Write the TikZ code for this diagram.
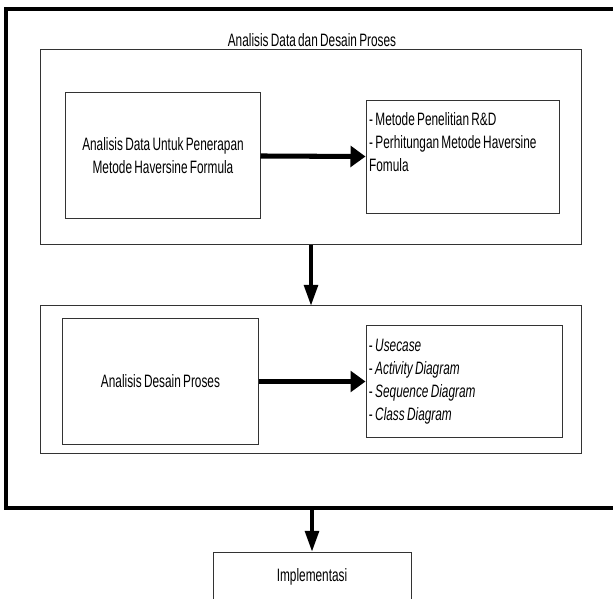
\documentclass[tikz,border=0pt]{standalone}
\usepackage{fontspec}
\setmainfont{Liberation Sans}[FakeStretch=0.66, WordSpace=0.7]
\usetikzlibrary{arrows.meta}

\tikzset{
	box/.style={shape=rectangle, draw=black!80, line width=0.85pt, inner sep=0.06cm, font=\fontsize{15.3}{19.6}\selectfont},
	txt/.style={shape=rectangle, inner sep=0pt, font=\fontsize{15.3}{19.6}\selectfont},
	frame/.style={shape=rectangle, draw, line width=3.4pt},
	flow/.style={line width=4.3pt, -{Triangle[length=0.45cm,width=0.62cm]}},
	down/.style={line width=2.6pt, -{Triangle[length=0.62cm,width=0.42cm]}},
}

\begin{document}
\begin{tikzpicture}[x=0.03cm, y=-0.03cm]
	\useasboundingbox (0,0) rectangle (613,599);

	\node[frame, minimum width=19.305cm, minimum height=14.94cm] (0) at (328.25,258.5) {};
	\node[txt] (t) at (312,40) {Analisis Data dan Desain Proses};

	\node[box, minimum width=16.2cm, minimum height=5.82cm] (1) at (311,147) {};
	\node[box, minimum width=5.82cm, minimum height=3.75cm, align=center] (2) at (163,155.5) {Analisis Data Untuk Penerapan\\Metode Haversine Formula};
	\node[box, minimum width=5.79cm, minimum height=3.36cm, text width=5.6cm, align=flush left] (3) at (462.5,157) {- Metode Penelitian R\&D\\- Perhitungan Metode Haversine\\Fomula\\\strut};

	\node[box, minimum width=16.2cm, minimum height=4.41cm] (4) at (311,379.5) {};
	\node[box, minimum width=5.85cm, minimum height=3.75cm] (5) at (160.5,381.5) {Analisis Desain Proses};
	\node[box, minimum width=5.88cm, minimum height=3.33cm, text width=5.7cm, align=flush left] (6) at (464,381.5) {- \textit{Usecase}\\- \textit{Activity Diagram}\\- \textit{Sequence Diagram}\\- \textit{Class Diagram}};

	\node[box, minimum width=5.94cm, minimum height=1.5cm] (7) at (312,577) {Implementasi};

	\path [flow] (2) edge (3);
	\path [down] (1) edge (4);
	\path [flow] (5) edge (6);
	\draw [down] (7.north |- 0.south) -- (7.north);
\end{tikzpicture}
\end{document}
